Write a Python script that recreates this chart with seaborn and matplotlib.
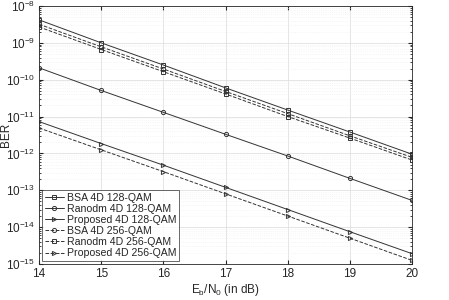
import numpy as np
import pandas as pd
import matplotlib
matplotlib.use("Agg")
import matplotlib.pyplot as plt
import seaborn as sns
from matplotlib.ticker import LogLocator, NullFormatter

snr = [14, 15, 16, 17, 18, 19, 20]
bsa_128 = [4.2e-9, 1.0e-9, 2.5e-10, 6.0e-11, 1.5e-11, 3.8e-12, 9.5e-13]
rand_128 = [2.1e-10, 5.1e-11, 1.3e-11, 3.3e-12, 8.5e-13, 2.1e-13, 5.3e-14]
prop_128 = [7.3e-12, 1.85e-12, 4.8e-13, 1.2e-13, 3.0e-14, 7.5e-15, 1.9e-15]
bsa_256 = [3.2e-9, 7.8e-10, 1.95e-10, 4.8e-11, 1.2e-11, 3.0e-12, 7.8e-13]
rand_256 = [2.7e-9, 6.6e-10, 1.65e-10, 4.1e-11, 1.0e-11, 2.6e-12, 6.6e-13]
prop_256 = [4.9e-12, 1.25e-12, 3.2e-13, 8.0e-14, 2.0e-14, 5.0e-15, 1.25e-15]

labels = ["BSA 4D 128-QAM", "Ranodm 4D 128-QAM", "Proposed 4D 128-QAM",
          "BSA 4D 256-QAM", "Ranodm 4D 256-QAM", "Proposed 4D 256-QAM"]
series = [bsa_128, rand_128, prop_128, bsa_256, rand_256, prop_256]
markers = ["s", "o", ">", "o", "s", ">"]
styles = ["-", "-", "-", "--", "--", "--"]

sns.set_style("ticks")
plt.rcParams['font.family'] = ['Liberation Sans', 'DejaVu Sans']
plt.rcParams['mathtext.fontset'] = 'custom'
plt.rcParams['mathtext.rm'] = 'Liberation Sans'
plt.rcParams['mathtext.it'] = 'Liberation Sans:italic'
plt.rcParams['mathtext.bf'] = 'Liberation Sans:bold'

fig = plt.figure(figsize=(4.49, 3.0), dpi=100)
ax = fig.add_axes([0.087, 0.12, 0.831, 0.86])

col = "#333333"
for lab, y, m, ls in zip(labels, series, markers, styles):
    df = pd.DataFrame({"snr": snr, "ber": y})
    sns.lineplot(data=df, x="snr", y="ber", ax=ax, color=col, linestyle=ls,
                 marker=m, markersize=3, markerfacecolor="none",
                 markeredgecolor=col, markeredgewidth=0.7, linewidth=0.7,
                 label=lab)

ax.set_yscale("log")
ax.set_xlim(14, 20)
ax.set_ylim(1e-15, 1e-8)
ax.set_xticks(snr)
ax.yaxis.set_major_locator(LogLocator(base=10, numticks=20))
ax.yaxis.set_minor_locator(LogLocator(base=10, subs=np.arange(2, 10), numticks=20))
ax.yaxis.set_minor_formatter(NullFormatter())
ax.grid(True, which="major", color="#e0e0e0", linewidth=0.6)
ax.grid(True, which="minor", axis="y", color="#eeeeee", linewidth=0.5, linestyle=":")
ax.tick_params(direction="in", which="both", labelsize=8.5, colors="#262626",
               top=True, right=True, length=3, pad=3)
ax.tick_params(which="minor", length=1.5)
for s in ax.spines.values():
    s.set_color("#262626")
    s.set_linewidth(0.6)

ax.set_xlabel("E$_\\mathregular{b}$/N$_\\mathregular{0}$ (in dB)", fontsize=8.5, labelpad=1)
ax.set_ylabel("BER", fontsize=8.5)
ax.yaxis.set_label_coords(-0.072, 0.5)

leg = ax.legend(loc="lower left", fontsize=7.6, frameon=True, fancybox=False,
                edgecolor="#262626", handlelength=1.8, handletextpad=0.3,
                labelspacing=0.1, borderpad=0.25, borderaxespad=0.3)
leg.get_frame().set_linewidth(0.6)

fig.savefig("out.png", dpi=100)
